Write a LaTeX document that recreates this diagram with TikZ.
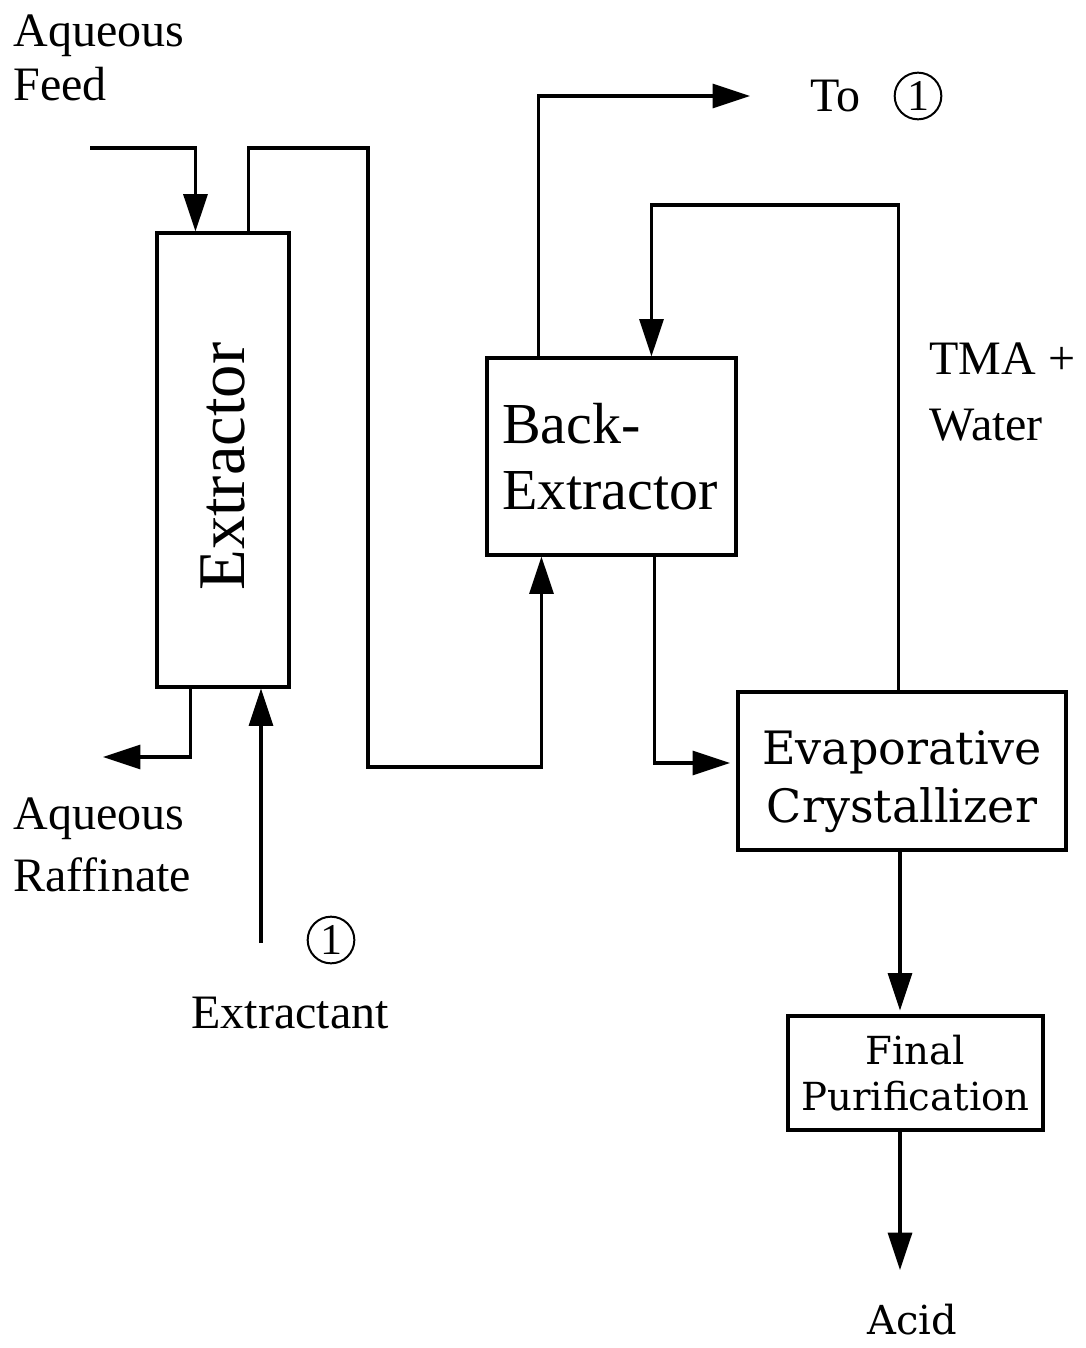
\documentclass[tikz,border=0pt]{standalone}
\usepackage{fontspec}
\setmainfont{Liberation Serif}
\newfontfamily\cent{DejaVu Serif}
\usetikzlibrary{arrows.meta}
\begin{document}
\begin{tikzpicture}[x=0.75pt,y=-0.75pt,
  line width=2.3pt,
  arr/.style={-{Triangle[length=28pt,width=18pt]}},
  lbl/.style={inner sep=0pt,font=\fontsize{36}{40}\selectfont},
  unit/.style={draw,inner sep=0pt},
  onec/.style={draw,circle,line width=1.5pt,inner sep=0pt,minimum size=35pt,font=\fontsize{33}{33}\selectfont}
]
\useasboundingbox (0,0) rectangle (1085,1348);
% units
\node[unit,minimum width=99pt,minimum height=340.5pt] (ext) at (223,460)
  {\rotatebox{90}{\fontsize{50}{52}\selectfont Extractor\hspace{10pt}}};
\node[unit,minimum width=186.75pt,minimum height=147.75pt,inner xsep=11.25pt,text width=164.25pt,align=left,
  font=\fontsize{43.5}{50}\selectfont] (back) at (611.5,456.5) {Back-\\Extractor};
\node[unit,minimum width=246pt,minimum height=118.5pt,align=center,
  font=\cent\fontsize{34.5}{43.5}\selectfont] (evap) at (902,771) {\rule{0pt}{42pt}Evaporative\\Crystallizer};
\node[unit,minimum width=191.25pt,minimum height=85.5pt,align=center,
  font=\cent\fontsize{29}{34}\selectfont] (final) at (915.5,1073) {Final\\Purification};
% labels
\node[lbl,anchor=west,align=left] (feedlbl) at (12,58) {Aqueous\\Feed};
\node[lbl,anchor=west,align=left,font=\fontsize{36}{47}\selectfont] (rafflbl) at (12,845) {Aqueous\\Raffinate};
\node[lbl] (extlbl) at (290,1013) {Extractant};
\node[onec] (one1) at (331,940) {1};
\node[lbl] (tolbl) at (835,96) {To};
\node[onec] (one2) at (918,96) {1};
\node[lbl,anchor=west,align=left,font=\fontsize{36}{49}\selectfont] (tmalbl) at (928,392) {TMA +\\Water};
\node[lbl,font=\cent\fontsize{30}{34}\selectfont] (acidlbl) at (912,1320) {Acid};
% free ends and bends
\coordinate (feedstart) at (90,148);
\coordinate (t1) at (368,148);
\coordinate (t2) at (368,767);
\coordinate (raffend) at (103,757);
\coordinate (extstart) at (261,943);
\coordinate (toend) at (750,96);
\coordinate (tma1) at (780,205);
\coordinate (evin) at (730,763);
\coordinate (fx) at (900,0);
\coordinate (acidtip) at (900,1270);
% connectors
\draw[arr] (feedstart) -| ([xshift=30pt]ext.north west);
\draw[arr] ([xshift=69.75pt]ext.north west) |- (t1) -- (t2) -| ([xshift=42pt]back.south west);
\draw[arr] ([xshift=26.25pt]ext.south west) |- (raffend);
\draw[arr] (extstart) -- (extstart |- ext.south);
\draw[arr] ([xshift=39.75pt]back.north west) |- (toend);
\draw[arr] ([xshift=121.5pt]evap.north west) |- (tma1) -| ([xshift=124.5pt]back.north west);
\draw[arr] ([xshift=126.75pt]back.south west) |- (evin);
\draw[arr,shorten >=3pt] (evap.south -| fx) -- (final.north -| fx);
\draw[arr] (final.south -| fx) -- (acidtip);
\end{tikzpicture}
\end{document}
